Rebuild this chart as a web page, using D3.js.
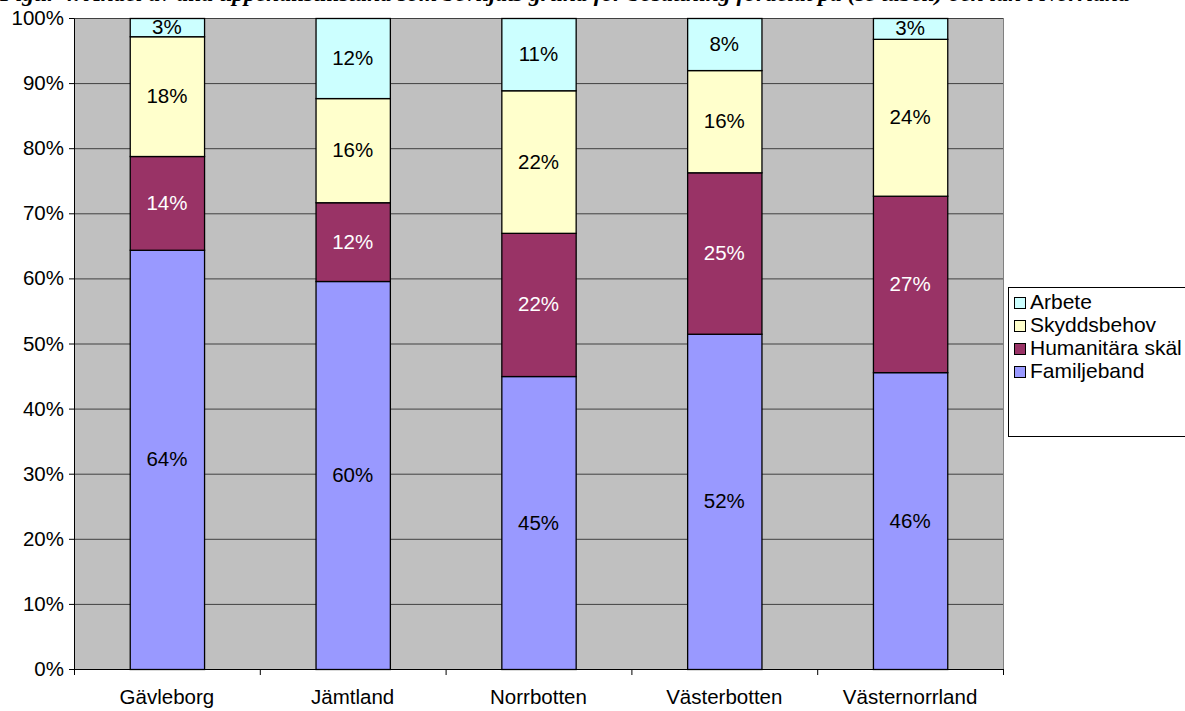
<!DOCTYPE html>
<html><head><meta charset="utf-8">
<script src="https://cdn.jsdelivr.net/npm/d3@7"></script>
<style>body{margin:0;background:#fff;}svg{display:block;font-family:Arial,"Liberation Sans",sans-serif;}</style>
</head><body>
<svg id="c" width="1185" height="711"></svg>
<script>
const title = "Figur 4. Andel av alla uppehållstillstånd som beviljats grund för bosättning fördelat på (se tabell) och län i Norrland";
const categories = ["Gävleborg","Jämtland","Norrbotten","Västerbotten","Västernorrland"];
const seriesNames = ["Familjeband","Humanitära skäl","Skyddsbehov","Arbete"];
const familjeband = [64.4, 59.6, 45.0, 51.5, 45.6];
const humanitara = [14.4, 12.1, 22.0, 24.8, 27.1];
const skyddsbehov = [18.4, 16.0, 21.9, 15.7, 24.1];
const arbete = [2.8, 12.3, 11.1, 8.0, 3.2];
const yTicks = [0,10,20,30,40,50,60,70,80,90,100];
const colors = ["#9999FF","#993366","#FFFFCC","#CCFFFF"];
const labelColors = ["#000","#fff","#000","#000"];

const svg = d3.select("#c");
const m = {l:74, r:1003, t:18, b:669};
const x = d3.scaleBand().domain(categories).range([m.l, m.r]).paddingInner(0.6).paddingOuter(0.3);
const xTick = d3.scaleBand().domain(categories).range([m.l, m.r]);
const y = d3.scaleLinear().domain([0,100]).range([m.b, m.t]);
const FS = 20.5;

// title (clipped at top like the reference)
svg.append("text").attr("x", 0).attr("y", 0.5)
  .attr("font-family","'Liberation Serif','Times New Roman',serif")
  .attr("font-style","italic").attr("font-weight","bold").attr("font-size",22)
  .attr("textLength",1130).attr("lengthAdjust","spacingAndGlyphs")
  .text(title);

// plot background
svg.append("rect").attr("x", m.l).attr("y", m.t).attr("width", m.r-m.l).attr("height", m.b-m.t).attr("fill","#C0C0C0");

// gridlines
svg.append("g").selectAll("line").data(yTicks.filter(d=>d>0)).join("line")
  .attr("x1", m.l).attr("x2", m.r).attr("y1", d=>y(d)+0.5).attr("y2", d=>y(d)+0.5)
  .attr("stroke","#404040").attr("stroke-width",1);
svg.append("line").attr("x1", m.r+0.5).attr("x2", m.r+0.5).attr("y1", m.t).attr("y2", m.b).attr("stroke","#808080");

// stacked data
const rows = categories.map((c,i)=>({cat:c, "Familjeband":familjeband[i], "Humanitära skäl":humanitara[i], "Skyddsbehov":skyddsbehov[i], "Arbete":arbete[i]}));
const stacked = d3.stack().keys(seriesNames)(rows);

const g = svg.append("g");
stacked.forEach((s, si) => {
  g.append("g").selectAll("rect").data(s).join("rect")
    .attr("x", d=>x(d.data.cat)+0.5)
    .attr("y", d=>y(d[1])+0.5)
    .attr("width", x.bandwidth())
    .attr("height", d=>y(d[0])-y(d[1]))
    .attr("fill", colors[si]).attr("stroke","#000").attr("stroke-width",1.3);
});
stacked.forEach((s, si) => {
  g.append("g").selectAll("text").data(s).join("text")
    .attr("x", d=>x(d.data.cat)+x.bandwidth()/2)
    .attr("y", d=>y((d[0]+d[1])/2)+7)
    .attr("text-anchor","middle").attr("font-size",FS)
    .attr("fill", labelColors[si])
    .text(d=>Math.round(d[1]-d[0])+"%");
});

// axes
const yAxis = svg.append("g").attr("transform",`translate(${m.l},0)`)
  .call(d3.axisLeft(y).tickValues(yTicks).tickFormat(d=>d+"%").tickSize(5).tickSizeOuter(0));
yAxis.select(".domain").attr("stroke","#000");
yAxis.selectAll("text").attr("font-size",FS).attr("font-family","Arial,'Liberation Sans',sans-serif").attr("fill","#000").attr("dx",-2);
yAxis.selectAll("line").attr("stroke","#000");

const xAxis = svg.append("g").attr("transform",`translate(0,${m.b})`);
xAxis.append("line").attr("x1",m.l).attr("x2",m.r).attr("y1",0.5).attr("y2",0.5).attr("stroke","#000");
const bounds = categories.map(c=>xTick(c)).concat([m.r]);
xAxis.selectAll("line.t").data(bounds).join("line").attr("class","t")
  .attr("x1",d=>d+0.5).attr("x2",d=>d+0.5).attr("y1",0).attr("y2",6).attr("stroke","#000");
xAxis.selectAll("text").data(categories).join("text")
  .attr("x", d=>xTick(d)+xTick.bandwidth()/2).attr("y",35)
  .attr("text-anchor","middle").attr("font-size",FS).text(d=>d);

// legend
const lg = svg.append("g").attr("transform","translate(1008,287)");
lg.append("rect").attr("x",0.5).attr("y",0.5).attr("width",200).attr("height",149).attr("fill","#fff").attr("stroke","#000");
const legendOrder = seriesNames.slice().reverse();
legendOrder.forEach((n,i)=>{
  const ci = seriesNames.indexOf(n);
  lg.append("rect").attr("x",6.5).attr("y",10.5+i*23).attr("width",11).attr("height",11)
    .attr("fill",colors[ci]).attr("stroke","#000");
  lg.append("text").attr("x",22).attr("y",22+i*23).attr("font-size",21).text(n);
});
</script>
</body></html>
